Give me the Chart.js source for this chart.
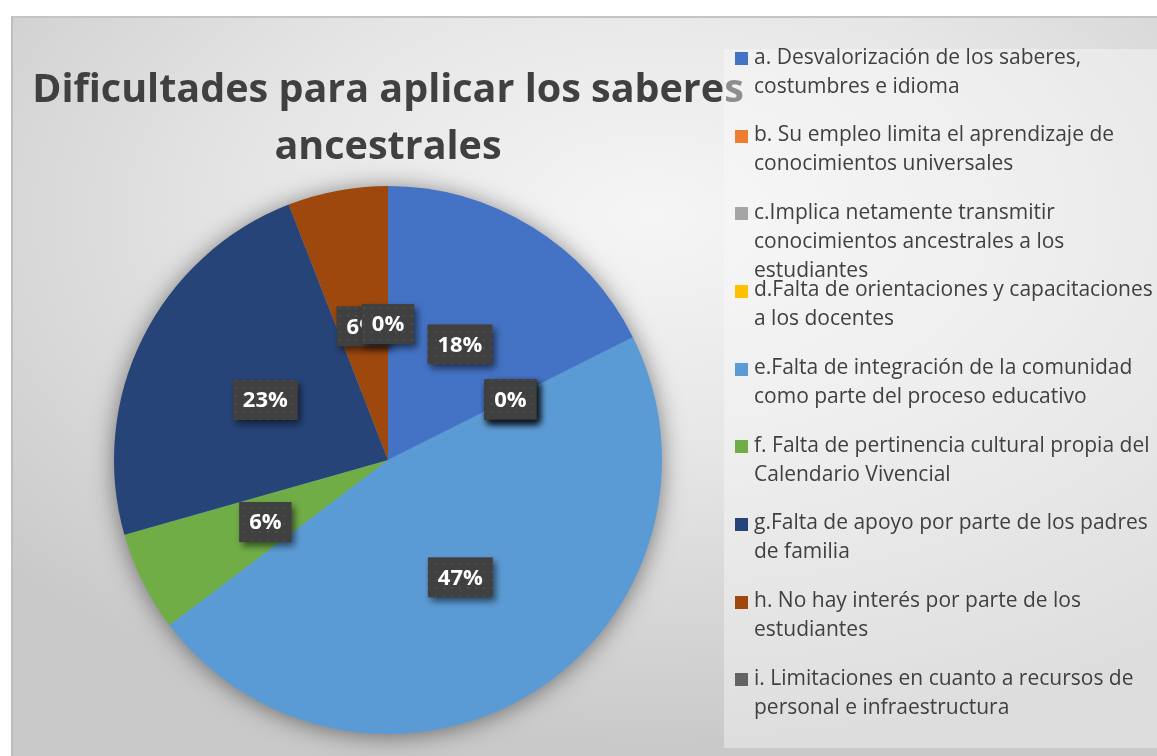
<!DOCTYPE html>
<html>
<head>
<meta charset="utf-8">
<script src="https://cdn.jsdelivr.net/npm/chart.js@4/dist/chart.umd.min.js"></script>
<style>
  html, body { margin: 0; padding: 0; background: #fff; }
  body { width: 1157px; height: 756px; position: relative; overflow: hidden; font-family: "Open Sans", sans-serif; }
  #frame {
    position: absolute; left: 11px; top: 16px; width: 1160px; height: 760px;
    border-left: 2px solid #bdbdbd; border-top: 2px solid #c4c4c4;
    background: radial-gradient(ellipse 75% 70% at 55% 26%, #f5f5f5 0%, #e6e6e6 45%, #c9c9c9 100%);
  }
  #chartCanvas { position: absolute; left: 0; top: 0; }
  #title {
    position: absolute; left: 0; top: 59px; width: 776px; text-align: center;
    font-family: "Open Sans", sans-serif; font-weight: 700; font-size: 39.5px; line-height: 57px;
    color: #404040;
  }
  #legend {
    position: absolute; left: 724px; top: 49px; width: 440px; height: 699px;
    background: rgba(250, 250, 250, 0.42);
  }
  .item { position: absolute; left: 0; width: 440px; }
  .box { position: absolute; left: 11px; top: 10.5px; width: 13px; height: 13px; }
  .txt {
    position: absolute; left: 30px; top: 0; white-space: nowrap;
    font-size: 21px; line-height: 29px; color: #404040;
  }
</style>
</head>
<body>
<div id="frame"></div>
<canvas id="chartCanvas" width="1157" height="756"></canvas>
<div id="title">Dificultades para aplicar los saberes<br>ancestrales</div>
<div id="legend"></div>
<script>
// categories (legend lines as shown), shares and the percentage labels printed on the slices
const categories = [
  ["a. Desvalorización de los saberes,", "costumbres e idioma"],
  ["b. Su empleo limita el aprendizaje de", "conocimientos universales"],
  ["c.Implica netamente transmitir", "conocimientos ancestrales a los", "estudiantes"],
  ["d.Falta de orientaciones y capacitaciones", "a los docentes"],
  ["e.Falta de integración de la comunidad", "como parte del proceso educativo"],
  ["f. Falta de pertinencia cultural propia del", "Calendario Vivencial"],
  ["g.Falta de apoyo por parte de los padres", "de familia"],
  ["h. No hay interés por parte de los", "estudiantes"],
  ["i. Limitaciones en cuanto a recursos de", "personal e infraestructura"]
];
const shares = [17.6, 0, 0, 0, 47.1, 5.9, 23.5, 5.9, 0];
const pctLabels = ["18%", "0%", "0%", "0%", "47%", "6%", "23%", "6%", "0%"];
const colors = ["#4472C4", "#ED7D31", "#A5A5A5", "#FFC000", "#5B9BD5", "#70AD47", "#264478", "#9E480E", "#636363"];

// HTML legend
const legendEl = document.getElementById("legend");
categories.forEach((lines, i) => {
  const item = document.createElement("div");
  item.className = "item";
  item.style.top = (i * 77.65 - 7.5) + "px";
  const box = document.createElement("div");
  box.className = "box";
  box.style.background = colors[i];
  const txt = document.createElement("div");
  txt.className = "txt";
  txt.innerHTML = lines.join("<br>");
  item.appendChild(box);
  item.appendChild(txt);
  legendEl.appendChild(item);
});

// dotted fill for the data label boxes
function makePattern(ctx) {
  const c = document.createElement("canvas");
  c.width = 8; c.height = 8;
  const p = c.getContext("2d");
  p.fillStyle = "#404040";
  p.fillRect(0, 0, 8, 8);
  p.fillStyle = "#4c4c4c";
  p.fillRect(3, 3, 2, 2);
  return ctx.createPattern(c, "repeat");
}

// soft shadow under the whole pie
const pieShadow = {
  id: "pieShadow",
  beforeDatasetsDraw(chart) {
    const arc = chart.getDatasetMeta(0).data[0];
    if (!arc) return;
    const { x, y, outerRadius } = arc.getProps(["x", "y", "outerRadius"], true);
    const ctx = chart.ctx;
    ctx.save();
    ctx.shadowColor = "rgba(0,0,0,0.5)";
    ctx.shadowBlur = 24;
    ctx.shadowOffsetX = 0;
    ctx.shadowOffsetY = 2;
    ctx.fillStyle = "#5B9BD5";
    ctx.beginPath();
    ctx.arc(x, y, outerRadius - 1, 0, Math.PI * 2);
    ctx.fill();
    ctx.restore();
  }
};

// percentage labels in dark boxes at half radius
const boxLabels = {
  id: "boxLabels",
  afterDatasetsDraw(chart) {
    const ctx = chart.ctx;
    const pattern = makePattern(ctx);
    ctx.save();
    ctx.font = "bold 22px 'Open Sans'";
    ctx.textAlign = "center";
    ctx.textBaseline = "middle";
    chart.getDatasetMeta(0).data.forEach((arc, i) => {
      const p = arc.getProps(["x", "y", "startAngle", "endAngle", "outerRadius"], true);
      const mid = (p.startAngle + p.endAngle) / 2;
      const r = p.outerRadius * 0.5;
      const cx = p.x + Math.cos(mid) * r;
      const cy = p.y + Math.sin(mid) * r + 1;
      const text = pctLabels[i];
      const w = ctx.measureText(text).width + 20;
      const h = 40;
      ctx.save();
      ctx.shadowColor = "rgba(0,0,0,0.55)";
      ctx.shadowBlur = 7;
      ctx.shadowOffsetX = 3;
      ctx.shadowOffsetY = 4;
      ctx.fillStyle = pattern;
      ctx.fillRect(cx - w / 2, cy - h / 2, w, h);
      ctx.restore();
      ctx.fillStyle = "#ffffff";
      ctx.fillText(text, cx, cy + 1);
    });
    ctx.restore();
  }
};

new Chart(document.getElementById("chartCanvas"), {
  type: "pie",
  data: {
    labels: categories.map(l => l.join(" ")),
    datasets: [{
      data: shares,
      backgroundColor: colors,
      borderWidth: 0
    }]
  },
  options: {
    responsive: false,
    animation: false,
    layout: { padding: { left: 114, right: 495, top: 186, bottom: 22 } },
    plugins: {
      legend: { display: false },
      tooltip: { enabled: false }
    }
  },
  plugins: [pieShadow, boxLabels]
});
</script>
</body>
</html>
